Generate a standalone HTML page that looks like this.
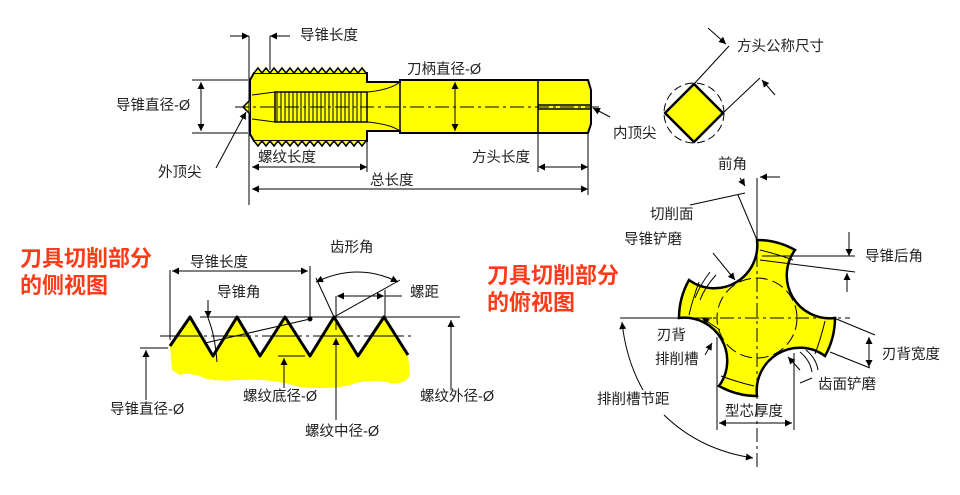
<!DOCTYPE html>
<html><head><meta charset="utf-8"><style>
body{margin:0;background:#fff}
svg{display:block}
text{font-family:"Liberation Sans","Noto Sans CJK SC",sans-serif;font-size:14.5px;fill:#222}
.r{fill:#ff3b1a;font-size:22px;font-weight:bold}
</style></head><body>
<svg width="960" height="495" viewBox="0 0 960 495" xmlns="http://www.w3.org/2000/svg">
<defs>
<marker id="a" viewBox="0 0 10 10" refX="10" refY="5" markerWidth="9" markerHeight="7" orient="auto-start-reverse" markerUnits="userSpaceOnUse"><path d="M0,0L10,5L0,10z" fill="#000"/></marker>
</defs>
<g stroke="#000" fill="none" stroke-width="1">
<!-- top tap -->
<path d="M250,80 L254,73 L367,73 L367,82 L400,82 L400,80 L588,80 L591,90 L591,124 L588,133 L400,133 L400,131 L367,131 L367,141 L254,141 L250,134 Z" fill="#ffff00" stroke-width="2"/>
<path d="M254,73 l4,-5 l4,5 l4,-5 l4,5 l4,-5 l4,5 l4,-5 l4,5 l4,-5 l4,5 l4,-5 l4,5 l4,-5 l4,5 l4,-5 l4,5 l4,-5 l4,5 l4,-5 l4,5 l4,-5 l4,5 l4,-5 l4,5 l4,-5 l4,5 l4,-5 l4,5 M254,141 l4,5 l4,-5 l4,5 l4,-5 l4,5 l4,-5 l4,5 l4,-5 l4,5 l4,-5 l4,5 l4,-5 l4,5 l4,-5 l4,5 l4,-5 l4,5 l4,-5 l4,5 l4,-5 l4,5 l4,-5 l4,5 l4,-5 l4,5 l4,-5 l4,5 l4,-5" fill="#ffff00" stroke-width="1.5"/>
<path d="M250,100 L243,107 L250,114" fill="#ffff00" stroke-width="1.5"/>
<rect x="275" y="92" width="92" height="30" stroke-width="1.5"/>
<path d="M277,92 v30 M281,92 v30 M285,92 v30 M289,92 v30 M293,92 v30 M297,92 v30 M301,92 v30 M305,92 v30 M309,92 v30 M313,92 v30 M317,92 v30 M321,92 v30 M325,92 v30 M329,92 v30 M333,92 v30 M337,92 v30 M341,92 v30 M345,92 v30 M349,92 v30 M353,92 v30 M357,92 v30 M361,92 v30"/>
<path d="M252,95 L275,92 M252,119 L275,122 M367,92 Q390,90 400,82 M367,122 Q390,124 400,131"/>
<path d="M400,80 V133 M538,80 V133 M538,105 H591 M538,109 H591" stroke-width="1.5"/>
<path d="M235,107 H600" stroke-dasharray="14,4,3,4"/>
<!-- dims top -->
<path d="M249,36 V205 M270,36 V70 M367,141 V172 M538,133 V172 M588,133 V195"/>
<path d="M230,36 H249" marker-end="url(#a)"/><path d="M290,36 H270" marker-end="url(#a)"/>
<path d="M252,167 H367" marker-start="url(#a)" marker-end="url(#a)"/>
<path d="M538,167 H588" marker-start="url(#a)" marker-end="url(#a)"/>
<path d="M252,189 H588" marker-start="url(#a)" marker-end="url(#a)"/>
<path d="M192,80 H248 M192,133 H248"/>
<path d="M201,82 V131" marker-start="url(#a)" marker-end="url(#a)"/>
<path d="M455,82 V131" marker-start="url(#a)" marker-end="url(#a)"/>
<path d="M216,168 L246,112" marker-end="url(#a)"/>
<path d="M610,117 L593,108" marker-end="url(#a)"/>
<!-- square head -->
<circle cx="694" cy="113" r="30" stroke-dasharray="8,4"/>
<path d="M694,84 L723,113 L694,142 L665,113 Z" fill="#ffff00" stroke-width="2.5" stroke-linejoin="round"/>
<path d="M694,84 L729,46 M723,113 L760,78"/>
<path d="M708,28 L726,44" marker-end="url(#a)"/>
<path d="M775,95 L762,80" marker-end="url(#a)"/>
<!-- bottom-left thread -->
<path d="M170,346 L190,317 L213,356 L237,317 L260,356 L285,317 L310,356 L334,317 L358,356 L384,317 L408,355 L410,375 Q405,385 390,383 Q370,378 350,385 Q330,390 300,387 Q270,378 240,380 Q210,382 200,376 Q185,372 180,375 L172,370 Z" fill="#ffff00" stroke="none"/>
<path d="M170,346 L190,317 L213,356 L237,317 L260,356 L285,317 L310,356 L334,317 L358,356 L384,317 L408,355" stroke-width="3" stroke-linejoin="round"/>
<path d="M160,336 H415" stroke-dasharray="40,4,3,4"/>
<path d="M200,317 H460 M140,348 H168 M278,356 H305"/>
<path d="M170,270 V340 M310,266 V319"/>
<path d="M172,271 H308" marker-start="url(#a)" marker-end="url(#a)"/>
<path d="M205,343 L310,319"/><circle cx="310" cy="319" r="2" fill="#000"/>
<path d="M208,300 V318" marker-end="url(#a)"/>
<path d="M208,318 Q215,335 217,362"/>
<path d="M316,278 L334,317 L400,280"/>
<path d="M316,282 Q358,262 398,282" marker-start="url(#a)" marker-end="url(#a)"/>
<path d="M336,296 V330 M385,290 V317"/>
<path d="M337,296 H384" marker-start="url(#a)" marker-end="url(#a)"/>
<path d="M385,296 H402"/>
<path d="M146,400 V350" marker-end="url(#a)"/>
<path d="M284,388 V358" marker-end="url(#a)"/>
<path d="M336,420 V338" marker-end="url(#a)"/>
<path d="M451,390 V320" marker-end="url(#a)"/>
<!-- right cross -->
<g transform="translate(757,318)">
<path d="M0,-78 A78,78 0 0 1 38,-68 A43,43 0 0 0 78,0 A78,78 0 0 1 68,38 A43,43 0 0 0 0,78 A78,78 0 0 1 -38,68 A43,43 0 0 0 -78,0 A78,78 0 0 1 -68,-38 A43,43 0 0 0 0,-78 Z" fill="#ffff00" stroke-width="2.5"/>
<circle r="40" stroke-dasharray="12,5"/>
<path d="M-87,0 H93 M0,-140 V152" stroke-dasharray="14,4,3,4"/>
<path d="M3,-68 Q20,-64 36,-58 M68,3 Q64,20 58,36 M-3,68 Q-20,64 -36,58 M-68,-3 Q-64,-20 -58,-36"/>
</g>
<path d="M757,180 V240 M738,195 L757,240 M690,205 L745,193"/>
<path d="M740,178 L745,186" marker-end="url(#a)"/>
<path d="M780,177 H760" marker-end="url(#a)"/>
<path d="M762,256 H855 M760,260 L855,272"/>
<path d="M849,232 V256" marker-end="url(#a)"/><path d="M847,292 V273" marker-end="url(#a)"/>
<path d="M834,318 L875,335 M830,352 L870,368"/>
<path d="M869,337 L869,367" marker-start="url(#a)" marker-end="url(#a)"/>
<path d="M713,253 L735,280" marker-end="url(#a)"/>
<path d="M710,272 Q700,285 695,298 M716,275 Q705,287 700,300"/>
<path d="M800,352 Q810,360 812,372 M806,350 Q816,358 818,370"/>
<path d="M788,357 L800,370" marker-start="url(#a)"/>
<path d="M812,378 L800,383"/>
<path d="M720,330 L702,318" marker-end="url(#a)"/>
<path d="M705,355 L712,343" marker-end="url(#a)"/>
<path d="M717,337 V430 M794,353 V430"/>
<path d="M719,423 H792" marker-start="url(#a)" marker-end="url(#a)"/>
<path d="M620,318 H712"/>
<path d="M643,390 Q626,360 622,322" marker-end="url(#a)"/>
<path d="M664,415 Q700,450 753,458" marker-end="url(#a)"/>
</g>
<!-- labels -->
<text x="300" y="40">导锥长度</text>
<text x="407" y="74">刀柄直径-Ø</text>
<text x="116" y="110">导锥直径-Ø</text>
<text x="613" y="138">内顶尖</text>
<text x="158" y="177">外顶尖</text>
<text x="258" y="162">螺纹长度</text>
<text x="472" y="162">方头长度</text>
<text x="370" y="185">总长度</text>
<text x="737" y="51">方头公称尺寸</text>
<text class="r" x="20" y="266">刀具切削部分</text>
<text class="r" x="20" y="293">的侧视图</text>
<text class="r" x="487" y="283">刀具切削部分</text>
<text class="r" x="487" y="310">的俯视图</text>
<text x="190" y="267">导锥长度</text>
<text x="330" y="252">齿形角</text>
<text x="217" y="297">导锥角</text>
<text x="410" y="297">螺距</text>
<text x="110" y="414">导锥直径-Ø</text>
<text x="243" y="401">螺纹底径-Ø</text>
<text x="420" y="401">螺纹外径-Ø</text>
<text x="305" y="436">螺纹中径-Ø</text>
<text x="718" y="169">前角</text>
<text x="650" y="219">切削面</text>
<text x="624" y="244">导锥铲磨</text>
<text x="865" y="261">导锥后角</text>
<text x="657" y="340">刃背</text>
<text x="655" y="364">排削槽</text>
<text x="882" y="359">刃背宽度</text>
<text x="818" y="389">齿面铲磨</text>
<text x="597" y="404">排削槽节距</text>
<text x="725" y="416">型芯厚度</text>
</svg>
</body></html>
